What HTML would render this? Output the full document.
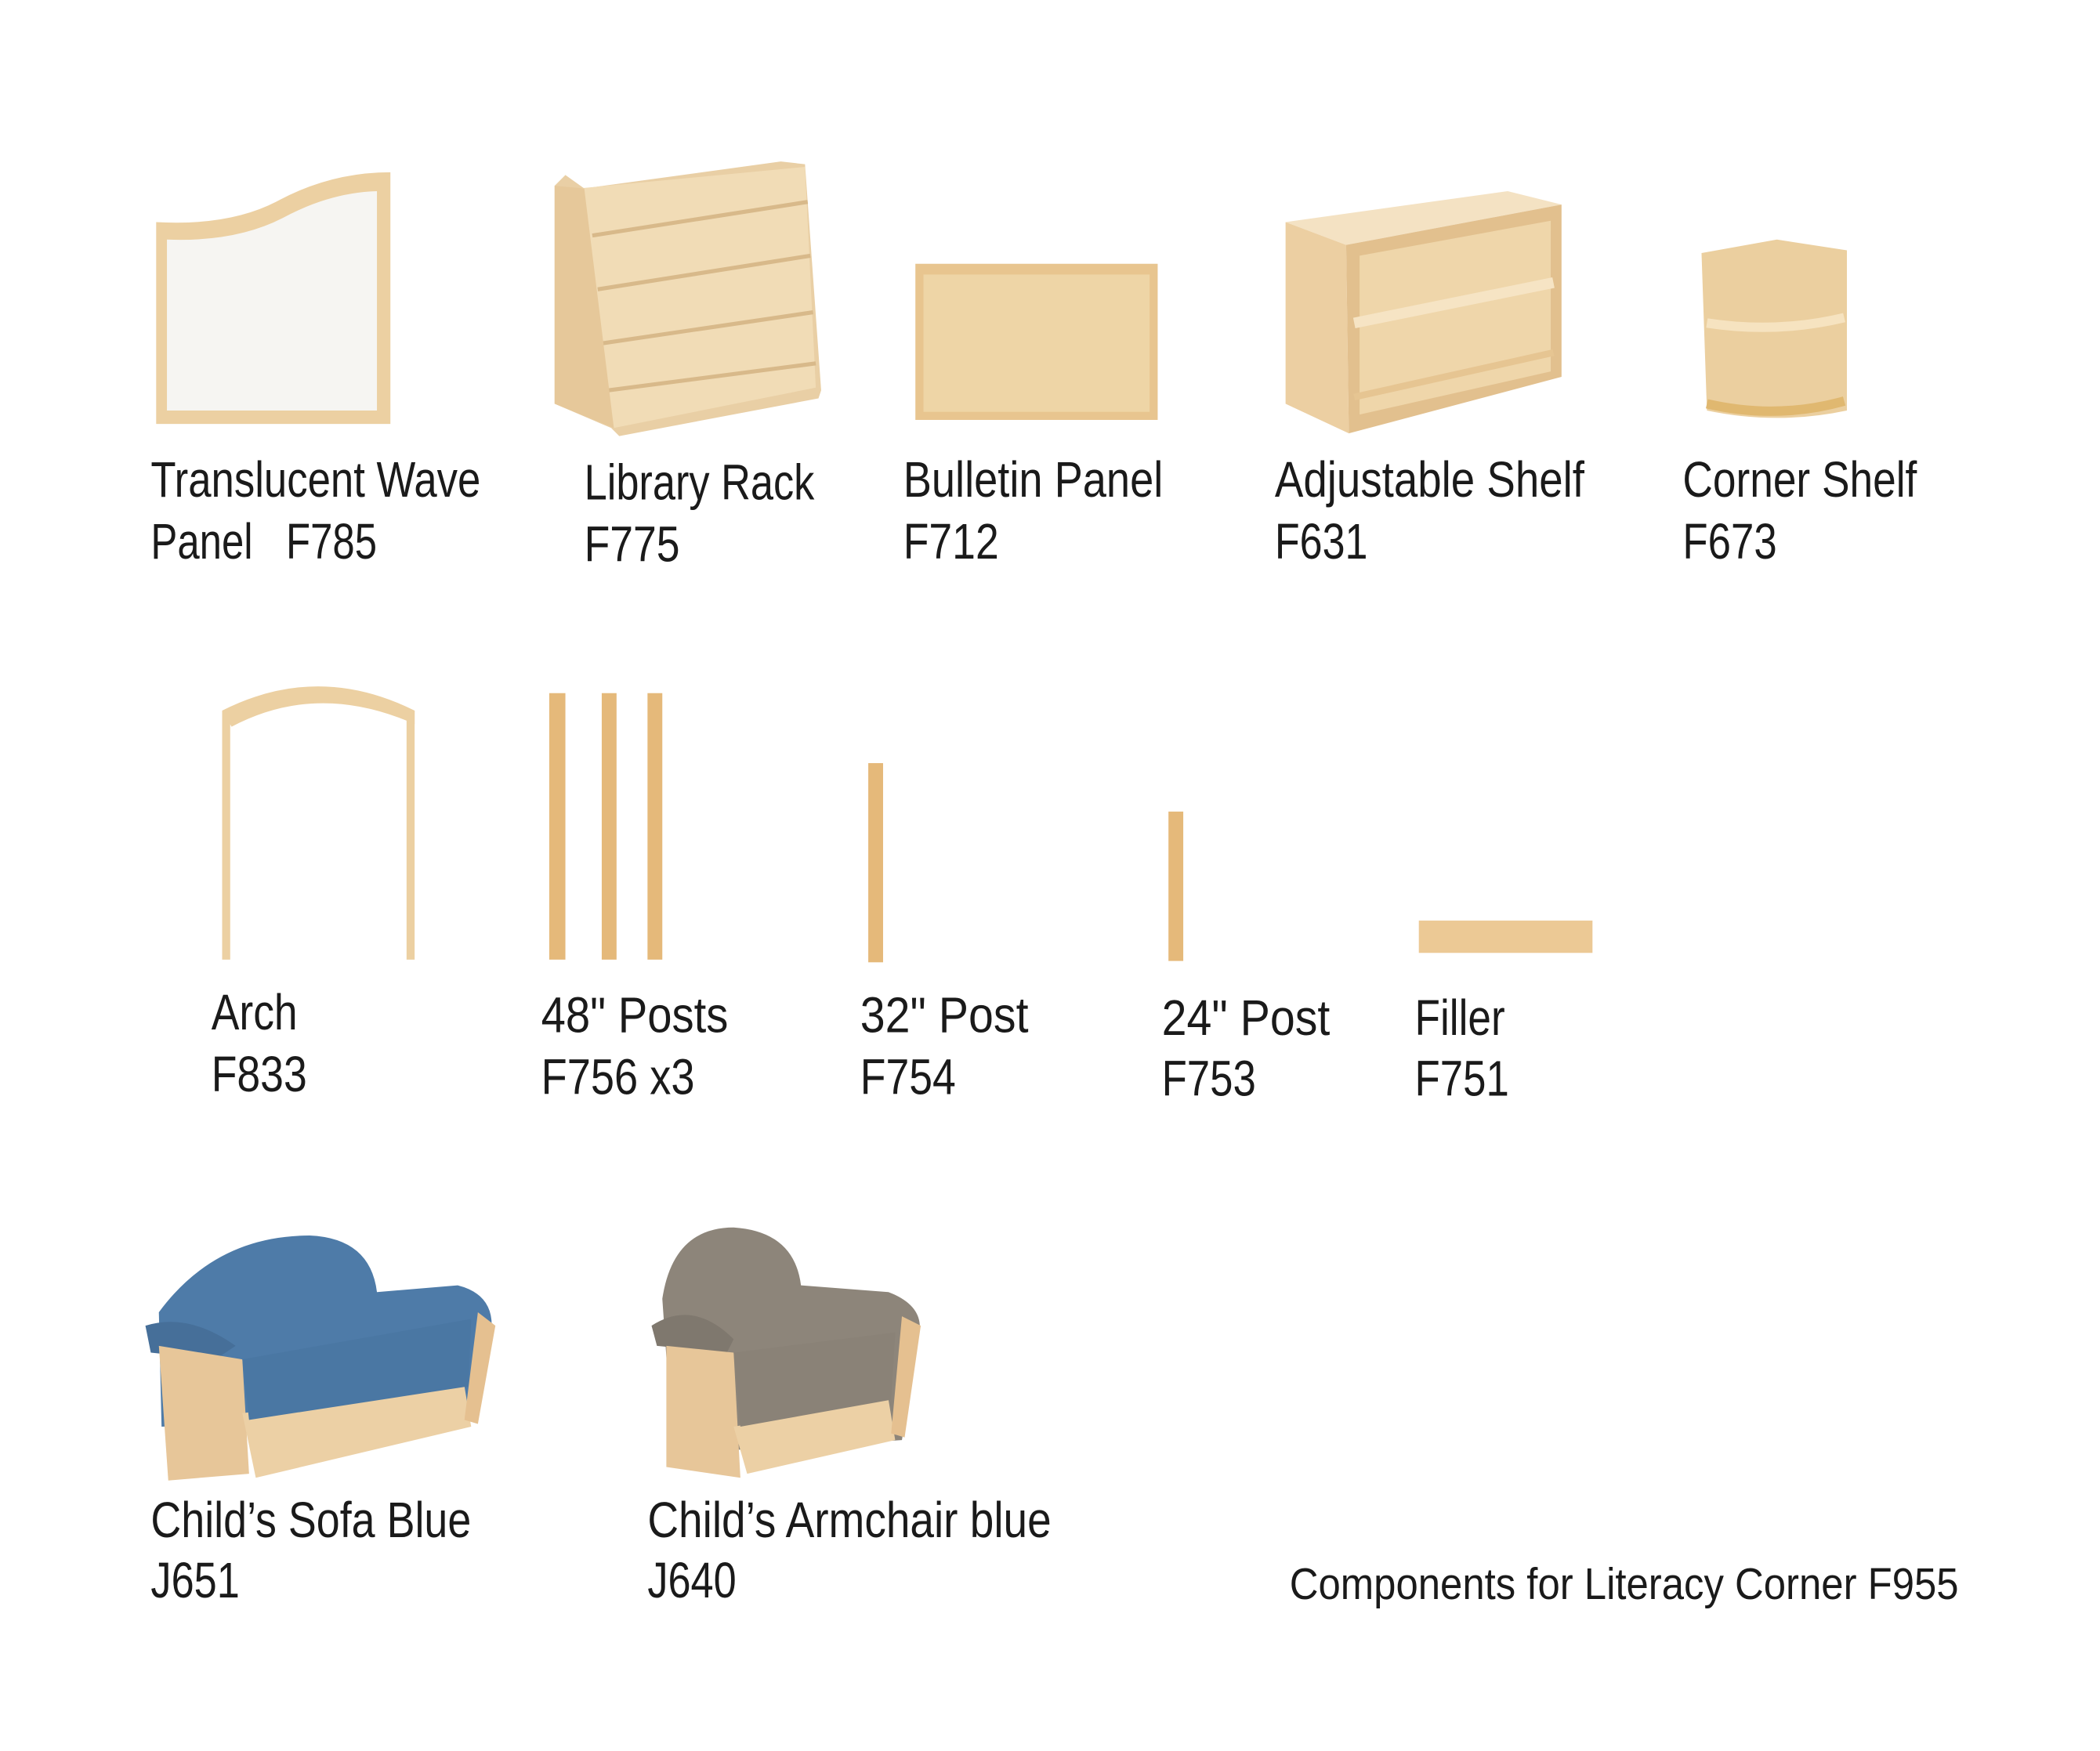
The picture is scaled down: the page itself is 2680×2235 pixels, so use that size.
<!DOCTYPE html>
<html><head><meta charset="utf-8"><style>
html,body{margin:0;padding:0;background:#fff;}
svg{display:block;}
text{font-family:"Liberation Sans Narrow","Liberation Sans",sans-serif;fill:#1a1a1a;font-size:37px;}
</style></head><body>
<svg width="2680" height="2235" viewBox="0 0 1560 1301" xmlns="http://www.w3.org/2000/svg">
<rect width="1560" height="1301" fill="#fff"/>
<!-- Wave panel -->
<path d="M116 165 Q170 168 205 150 Q245 128 290 128 L290 315 L116 315 Z" fill="#ecd0a2"/>
<path d="M124 178 Q175 180 210 162 Q245 143 280 142 L280 305 L124 305 Z" fill="#f6f5f2"/>
<!-- Library rack -->
<path d="M412 138 L420 130 L434 140 L580 120 L598 122 L610 290 L608 296 L460 324 L454 318 L412 300 Z" fill="#e9cfa5"/>
<path d="M430 140 L598 124 L606 288 L456 318 Z" fill="#f1dcb6"/>
<path d="M440 175 L600 150 M444 215 L602 190 M448 255 L604 232 M452 290 L606 270" stroke="#d8b98a" stroke-width="3"/>
<path d="M412 138 L434 140 L456 318 L412 300 Z" fill="#e6c89a"/>
<!-- Bulletin -->
<rect x="680" y="196" width="180" height="116" fill="#e8c58f"/>
<rect x="686" y="204" width="168" height="102" fill="#eed5a6"/>
<!-- Adjustable shelf -->
<path d="M955 165 L1000 182 L1160 152 L1120 142 Z" fill="#f4e2c3"/>
<path d="M955 165 L1000 182 L1002 322 L955 300 Z" fill="#eccfa2"/>
<path d="M1000 182 L1160 152 L1160 280 L1002 322 Z" fill="#e2c08e"/>
<path d="M1010 190 L1152 164 L1152 276 L1010 308 Z" fill="#efd6aa"/>
<path d="M1006 240 L1154 210" stroke="#f6e4c4" stroke-width="8"/>
<path d="M1006 295 L1154 262" stroke="#e6c592" stroke-width="5"/>
<!-- Corner shelf -->
<path d="M1264 188 L1320 178 L1372 186 L1372 305 Q1320 316 1268 305 Z" fill="#ebcf9f"/>
<path d="M1268 240 Q1320 248 1370 236" stroke="#f6e3c0" stroke-width="7" fill="none"/>
<path d="M1268 300 Q1320 312 1370 298" stroke="#e0b870" stroke-width="7" fill="none"/>
<!-- Arch -->
<path d="M165 528 Q236 492 308 528 L308 538 Q236 506 172 540 Z" fill="#ecd0a2"/>
<rect x="165" y="528" width="6" height="185" fill="#ecd0a2"/>
<rect x="302" y="528" width="6" height="185" fill="#ecd0a2"/>
<!-- Posts -->
<g fill="#e5b97a"><rect x="408" y="515" width="12" height="198"/><rect x="447" y="515" width="11" height="198"/><rect x="481" y="515" width="11" height="198"/>
<rect x="645" y="567" width="11" height="148"/><rect x="868" y="603" width="11" height="111"/></g>
<!-- Filler -->
<rect x="1054" y="684" width="129" height="24" fill="#ecc995"/>
<!-- Sofa -->
<path d="M118 975 Q160 918 230 918 Q275 920 280 960 L340 955 Q368 962 365 990 L350 1055 L120 1060 Z" fill="#4e7ba8"/>
<path d="M108 985 Q140 975 175 1000 L160 1010 L112 1005 Z" fill="#466f99"/>
<path d="M118 1000 L180 1010 L185 1095 L125 1100 Z" fill="#e7c699"/>
<path d="M180 1050 L345 1030 L350 1060 L190 1098 Z" fill="#ecd0a5"/>
<path d="M180 1010 L350 980 L348 1030 L185 1055 Z" fill="#4a77a3"/>
<path d="M355 975 L368 985 L355 1058 L345 1055 Z" fill="#e5c090"/>
<!-- Armchair -->
<path d="M492 965 Q500 912 545 912 Q590 915 595 955 L660 960 Q686 970 683 990 L670 1070 L500 1080 Z" fill="#8d857a"/>
<path d="M484 985 Q515 965 545 995 L540 1005 L488 1000 Z" fill="#7f786e"/>
<path d="M495 1000 L545 1005 L550 1098 L495 1090 Z" fill="#e7c699"/>
<path d="M545 1060 L660 1040 L665 1070 L555 1095 Z" fill="#ecd0a5"/>
<path d="M545 1005 L665 990 L662 1040 L550 1060 Z" fill="#8a8277"/>
<path d="M670 978 L684 985 L672 1068 L662 1065 Z" fill="#e5c090"/>
<!-- Labels -->
<g lengthAdjust="spacingAndGlyphs">
<text x="112" y="369" textLength="245" lengthAdjust="spacingAndGlyphs">Translucent Wave</text>
<text x="112" y="415" textLength="168" lengthAdjust="spacingAndGlyphs" xml:space="preserve">Panel   F785</text>
<text x="434" y="371" textLength="171" lengthAdjust="spacingAndGlyphs">Library Rack</text>
<text x="434" y="417" textLength="71" lengthAdjust="spacingAndGlyphs">F775</text>
<text x="671" y="369" textLength="193" lengthAdjust="spacingAndGlyphs">Bulletin Panel</text>
<text x="671" y="415" textLength="71" lengthAdjust="spacingAndGlyphs">F712</text>
<text x="947" y="369" textLength="230" lengthAdjust="spacingAndGlyphs">Adjustable Shelf</text>
<text x="947" y="415" textLength="69" lengthAdjust="spacingAndGlyphs">F631</text>
<text x="1250" y="369" textLength="174" lengthAdjust="spacingAndGlyphs">Corner Shelf</text>
<text x="1250" y="415" textLength="70" lengthAdjust="spacingAndGlyphs">F673</text>
<text x="157" y="765" textLength="64" lengthAdjust="spacingAndGlyphs">Arch</text>
<text x="157" y="811" textLength="71" lengthAdjust="spacingAndGlyphs">F833</text>
<text x="402" y="767" textLength="139" lengthAdjust="spacingAndGlyphs">48" Posts</text>
<text x="402" y="813" textLength="114" lengthAdjust="spacingAndGlyphs">F756 x3</text>
<text x="639" y="767" textLength="125" lengthAdjust="spacingAndGlyphs">32" Post</text>
<text x="639" y="813" textLength="71" lengthAdjust="spacingAndGlyphs">F754</text>
<text x="863" y="769" textLength="125" lengthAdjust="spacingAndGlyphs">24" Post</text>
<text x="863" y="814" textLength="70" lengthAdjust="spacingAndGlyphs">F753</text>
<text x="1051" y="769" textLength="67" lengthAdjust="spacingAndGlyphs">Filler</text>
<text x="1051" y="814" textLength="70" lengthAdjust="spacingAndGlyphs">F751</text>
<text x="112" y="1142" textLength="238" lengthAdjust="spacingAndGlyphs">Child’s Sofa Blue</text>
<text x="112" y="1187" textLength="66" lengthAdjust="spacingAndGlyphs">J651</text>
<text x="481" y="1142" textLength="300" lengthAdjust="spacingAndGlyphs">Child’s Armchair blue</text>
<text x="481" y="1187" textLength="66" lengthAdjust="spacingAndGlyphs">J640</text>
<text x="958" y="1188" textLength="497" lengthAdjust="spacingAndGlyphs" style="font-size:33px">Components for Literacy Corner F955</text>
</g>
</svg>
</body></html>
